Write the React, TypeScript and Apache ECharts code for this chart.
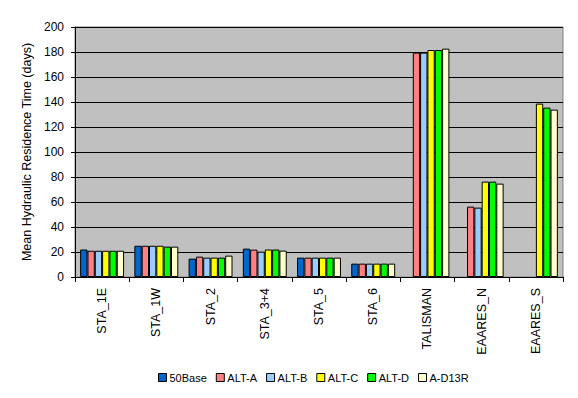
import React, { useEffect, useRef } from "react";
import * as echarts from "echarts";

const categories = ["STA_1E", "STA_1W", "STA_2", "STA_3+4", "STA_5", "STA_6", "TALISMAN", "EAARES_N", "EAARES_S"];
const seriesNames = ["50Base", "ALT-A", "ALT-B", "ALT-C", "ALT-D", "A-D13R"];
const seriesColors = ["#0066CC", "#FF8080", "#99CCFF", "#FFFF00", "#00FF00", "#FFFFCC"];
const base50 = [22, 25, 14.7, 22.7, 15.5, 10.7, null, null, null];
const altA = [21, 25, 16.3, 21.9, 15.5, 10.7, 179.5, 56.3, null];
const altB = [21, 25, 15.5, 20.3, 15.5, 10.7, 179.5, 55.5, null];
const altC = [21, 25, 15.5, 22, 15.5, 10.7, 181.6, 76.3, 138.7];
const altD = [21, 24.3, 15.5, 22, 15.5, 10.7, 181.6, 76.3, 135.5];
const aD13R = [21, 24.3, 17.1, 21.1, 15.5, 10.7, 182.7, 74.7, 133.9];
const seriesData = [base50, altA, altB, altC, altD, aD13R];

const FONT = "Liberation Sans, Arial, sans-serif";

export default function App() {
  const ref = useRef<HTMLDivElement>(null);
  useEffect(() => {
    if (!ref.current) return;
    const chart = echarts.init(ref.current, undefined, { renderer: "svg" });
    chart.setOption({
      animation: false,
      backgroundColor: "#ffffff",
      textStyle: { fontFamily: FONT },
      grid: {
        left: 75,
        right: 15,
        top: 27,
        bottom: 121,
        show: true,
        backgroundColor: "#C0C0C0",
        borderColor: "#808080",
        borderWidth: 1,
      },
      legend: {
        bottom: 10,
        left: 153,
        itemWidth: 8,
        itemHeight: 8,
        itemGap: 9,
        icon: "rect",
        textStyle: { fontFamily: FONT, fontSize: 11, color: "#000", padding: [0, 0, 0, -2] },
        itemStyle: { borderColor: "#000", borderWidth: 1 },
        data: seriesNames,
      },
      xAxis: {
        type: "category",
        data: categories,
        axisLine: { lineStyle: { color: "#000", width: 1 } },
        axisTick: { show: true, alignWithLabel: false, length: 5, lineStyle: { color: "#000" } },
        axisLabel: {
          rotate: 90,
          fontFamily: FONT,
          fontSize: 12.5,
          color: "#000",
          margin: 11,
          interval: 0,
        },
      },
      yAxis: {
        type: "value",
        min: 0,
        max: 200,
        interval: 20,
        name: "Mean Hydraulic Residence Time (days)",
        nameLocation: "middle",
        nameGap: 42,
        nameTextStyle: { fontFamily: FONT, fontSize: 12.5, color: "#000" },
        axisLine: { show: true, lineStyle: { color: "#000", width: 1 } },
        axisTick: { show: true, length: 4, lineStyle: { color: "#000" } },
        axisLabel: { fontFamily: FONT, fontSize: 12, color: "#000", margin: 11 },
        splitLine: { show: true, lineStyle: { color: "#000", width: 1 } },
      },
      series: seriesNames.map((name, i) => ({
        name,
        type: "bar",
        data: seriesData[i],
        barGap: "0%",
        barCategoryGap: "19%",
        itemStyle: { color: seriesColors[i], borderColor: "#000", borderWidth: 1 },
      })),
    });
    return () => chart.dispose();
  }, []);
  return <div ref={ref} style={{ width: 578, height: 398, position: "absolute", left: 0, top: 0 }} />;
}
